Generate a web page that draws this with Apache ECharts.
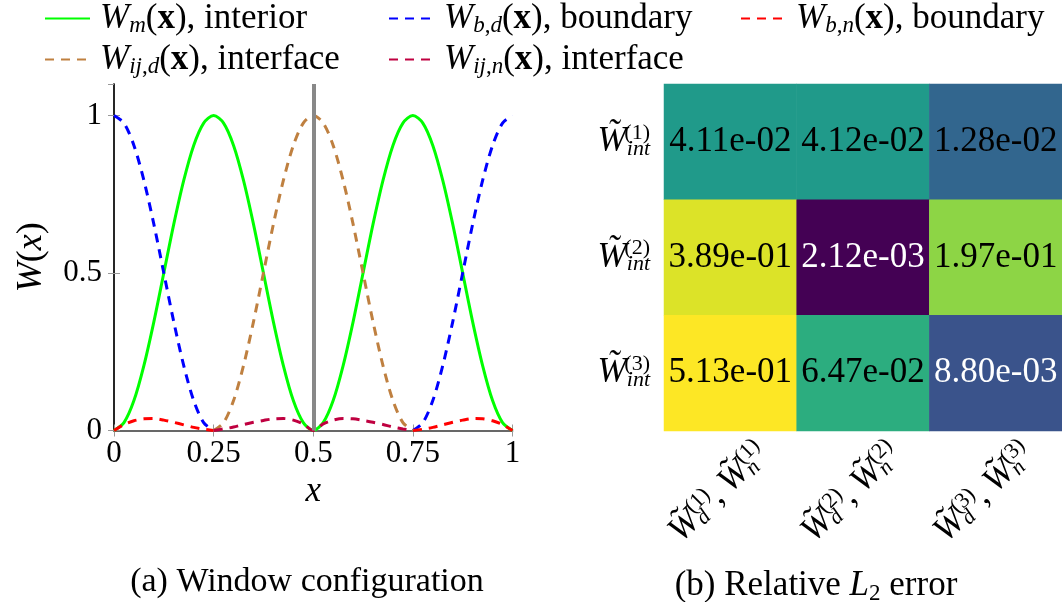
<!DOCTYPE html>
<html>
<head>
<meta charset="utf-8">
<script src="https://cdn.jsdelivr.net/npm/echarts@6/dist/echarts.min.js"></script>
<style>
  html, body { margin: 0; padding: 0; background: #fff; }
  #chart { width: 1062px; height: 602px; }
</style>
</head>
<body>
<div id="chart"></div>
<script>
// sample positions along x
var xs = [0, 0.025, 0.05, 0.075, 0.1, 0.125, 0.15, 0.175, 0.2, 0.225, 0.25,
  0.275, 0.3, 0.325, 0.35, 0.375, 0.4, 0.425, 0.45, 0.475, 0.5,
  0.525, 0.55, 0.575, 0.6, 0.625, 0.65, 0.675, 0.7, 0.725, 0.75,
  0.775, 0.8, 0.825, 0.85, 0.875, 0.9, 0.925, 0.95, 0.975, 1];

var wInterior = [0, 0.025, 0.095, 0.206, 0.345, 0.5, 0.655, 0.794, 0.905, 0.976, 1,
  0.976, 0.905, 0.794, 0.655, 0.5, 0.345, 0.206, 0.095, 0.025, 0,
  0.025, 0.095, 0.206, 0.345, 0.5, 0.655, 0.794, 0.905, 0.976, 1,
  0.976, 0.905, 0.794, 0.655, 0.5, 0.345, 0.206, 0.095, 0.025, 0];

var wBoundaryD = [1, 0.976, 0.905, 0.794, 0.655, 0.5, 0.345, 0.206, 0.095, 0.025, 0,
  null, null, null, null, null, null, null, null, null, null,
  null, null, null, null, null, null, null, null, null,
  0, 0.025, 0.095, 0.206, 0.345, 0.5, 0.655, 0.794, 0.905, 0.976, 1];

var wBoundaryN = [0, 0.019, 0.031, 0.037, 0.038, 0.033, 0.026, 0.018, 0.010, 0.004, 0,
  null, null, null, null, null, null, null, null, null, null,
  null, null, null, null, null, null, null, null, null,
  0, 0.004, 0.010, 0.018, 0.026, 0.033, 0.038, 0.037, 0.031, 0.019, 0];

var wInterfaceD = [null, null, null, null, null, null, null, null, null, null,
  0, 0.025, 0.095, 0.206, 0.345, 0.5, 0.655, 0.794, 0.905, 0.976, 1,
  0.976, 0.905, 0.794, 0.655, 0.5, 0.345, 0.206, 0.095, 0.025, 0,
  null, null, null, null, null, null, null, null, null, null];

var wInterfaceN = [null, null, null, null, null, null, null, null, null, null,
  0, 0.005, 0.011, 0.019, 0.026, 0.032, 0.037, 0.038, 0.033, 0.021, 0,
  0.021, 0.033, 0.038, 0.037, 0.032, 0.026, 0.019, 0.011, 0.005, 0,
  null, null, null, null, null, null, null, null, null, null];

var interfaceX = [0.5];

// relative L2 error table, rows = W_int^(k), cols = (W_d^(k), W_n^(k))
var errRow1 = [4.11e-2, 4.12e-2, 1.28e-2];
var errRow2 = [3.89e-1, 2.12e-3, 1.97e-1];
var errRow3 = [5.13e-1, 6.47e-2, 8.80e-3];
var heatCols = ['1', '2', '3'];
var heatRows = ['1', '2', '3'];

var FONT = "'Liberation Serif', 'Times New Roman', Times, serif";
var viridis = ['#440154', '#482878', '#3e4989', '#31688e', '#26828e', '#1f9e89',
  '#35b779', '#6ece58', '#b5de2b', '#fde725'];

function pairs(ys) {
  return xs.map(function (x, i) { return [x, ys[i]]; });
}

function tok(size, extra) {
  var s = { fontFamily: FONT, fontSize: size, fontWeight: 'normal', fontStyle: 'normal', color: '#000' };
  for (var k in extra) s[k] = extra[k];
  return s;
}

// legend / titles / axis names
var rich = {
  it: tok(35, { fontStyle: 'italic', lineHeight: 38 }),
  rm: tok(35, { lineHeight: 38 }),
  bf: tok(35, { fontWeight: 'bold', lineHeight: 38 }),
  sub: tok(23, { fontStyle: 'italic', lineHeight: 18, verticalAlign: 'bottom' }),
  subrm: tok(23, { lineHeight: 18, verticalAlign: 'bottom' })
};

// heatmap row labels: base (W + int), superscripts, tildes on separate axes
var yBaseRich = {
  W: tok(35, { fontStyle: 'italic', lineHeight: 36 }),
  lo: tok(22, { fontStyle: 'italic', lineHeight: 14, verticalAlign: 'bottom' })
};
var ySupRich = { sup: tok(22, { lineHeight: 22 }) };
var yTildeRich = { tt: tok(35, { fontStyle: 'italic', lineHeight: 36 }) };

// heatmap column labels (rotated), fixed widths keep the three layers aligned
var xBaseRich = {
  W: tok(35, { fontStyle: 'italic', lineHeight: 36, width: 29, align: 'left' }),
  lo: tok(22, { fontStyle: 'italic', lineHeight: 14, verticalAlign: 'bottom', width: 25, align: 'left' }),
  cm: tok(35, { lineHeight: 36, width: 16, align: 'left' })
};
var xSupRich = {
  s29: { width: 29, lineHeight: 2, fontSize: 10, align: 'left' },
  s16: { width: 16, lineHeight: 2, fontSize: 10, align: 'left' },
  sup: tok(22, { lineHeight: 22, width: 25, align: 'left' })
};
var xTildeRich = {
  s10: { width: 10, lineHeight: 2, fontSize: 10, align: 'left' },
  s25: { width: 25, lineHeight: 2, fontSize: 10, align: 'left' },
  s16: { width: 16, lineHeight: 2, fontSize: 10, align: 'left' },
  tt: tok(35, { fontStyle: 'italic', lineHeight: 36, width: 19, align: 'left' })
};

var legendText = {
  Wm: '{it|W}{sub|m}{rm|(}{bf|x}{rm|), interior}',
  Wbd: '{it|W}{sub|b}{subrm|,}{sub|d}{rm|(}{bf|x}{rm|), boundary}',
  Wbn: '{it|W}{sub|b}{subrm|,}{sub|n}{rm|(}{bf|x}{rm|), boundary}',
  Wijd: '{it|W}{sub|ij}{subrm|,}{sub|d}{rm|(}{bf|x}{rm|), interface}',
  Wijn: '{it|W}{sub|ij}{subrm|,}{sub|n}{rm|(}{bf|x}{rm|), interface}'
};

function legendAt(name, left, top) {
  return {
    data: [name], left: left, top: top, padding: 0, itemGap: 0,
    itemWidth: 45, itemHeight: 14, selectedMode: false,
    itemStyle: { opacity: 0, borderWidth: 0 },
    formatter: function (n) { return legendText[n]; },
    textStyle: { rich: rich, padding: [0, 0, 0, 5] }
  };
}

function fmtExp(v) {
  return v.toExponential(2).replace(/e([+-])(\d)$/, 'e$10$2');
}

var heatData = [];
[errRow1, errRow2, errRow3].forEach(function (row, r) {
  row.forEach(function (v, c) {
    heatData.push({
      value: [c, r, v, Math.log10(v)],
      label: { color: v < 0.01 ? '#fff' : '#000' }
    });
  });
});
var allErr = errRow1.concat(errRow2, errRow3);

function lineSeries(name, ys, color, dashed) {
  return {
    name: name, type: 'line', data: pairs(ys), xAxisIndex: 0, yAxisIndex: 0,
    symbol: 'none', smooth: 0.3, connectNulls: false,
    lineStyle: { color: color, width: 3, type: dashed ? [9, 7] : 'solid' },
    itemStyle: { color: color },
    emphasis: { disabled: true }
  };
}

function heatX(richStyle, padBottom, fmt) {
  return {
    type: 'category', gridIndex: 1, data: heatCols, position: 'bottom',
    axisLine: { show: false }, axisTick: { show: false }, splitLine: { show: false },
    axisLabel: {
      interval: 0, rotate: 45, align: 'center', verticalAlign: 'middle', margin: 50,
      padding: [0, 34, padBottom, 0], rich: richStyle, formatter: fmt
    }
  };
}

function heatY(richStyle, margin, padBottom, fmt) {
  return {
    type: 'category', gridIndex: 1, data: heatRows, inverse: true, position: 'left',
    axisLine: { show: false }, axisTick: { show: false }, splitLine: { show: false },
    axisLabel: { margin: margin, padding: [0, 0, padBottom, 0], rich: richStyle, formatter: fmt }
  };
}

var chart = echarts.init(document.getElementById('chart'));
var tickGray = '#999';
chart.setOption({
  animation: false,
  backgroundColor: '#fff',
  title: [
    { text: '(a) Window configuration', left: 302, top: 560, textAlign: 'center',
      textStyle: { fontFamily: FONT, fontSize: 34, fontWeight: 'normal', color: '#000' } },
    { text: '{rm|(b) Relative }{it|L}{subrm|2}{rm| error}', left: 811, top: 562, textAlign: 'center',
      textStyle: { fontWeight: 'normal', rich: rich } }
  ],
  legend: [
    legendAt('Wm', 44, 1),
    legendAt('Wbd', 388, 1),
    legendAt('Wbn', 740, 1),
    legendAt('Wijd', 44, 42),
    legendAt('Wijn', 388, 42)
  ],
  grid: [
    { left: 114, top: 84, width: 398.5, height: 346.5 },
    { left: 664, top: 84, width: 398, height: 347 }
  ],
  xAxis: [
    { type: 'value', gridIndex: 0, min: 0, max: 1, interval: 0.25, position: 'bottom',
      name: '{it|x}', nameLocation: 'middle', nameGap: 38, nameTextStyle: { rich: rich },
      axisLine: { lineStyle: { color: '#000', width: 1.5 } },
      axisTick: { inside: true, length: 6, lineStyle: { color: tickGray } },
      axisLabel: { fontFamily: FONT, fontSize: 31, color: '#000', margin: 8 },
      splitLine: { show: false } },
    { type: 'value', gridIndex: 0, min: 0, max: 1, interval: 0.25, position: 'top',
      axisLine: { lineStyle: { color: '#777', width: 1.5 } },
      axisTick: { inside: true, length: 6, lineStyle: { color: tickGray } },
      axisLabel: { show: false }, splitLine: { show: false } },
    heatX(xBaseRich, 0, function (v) {
      return '{W|W}{lo|d}{cm|,}{W|W}{lo|n}';
    }),
    heatX(xSupRich, 18, function (v) {
      return '{s29| }{sup|(' + v + ')}{s16| }{s29| }{sup|(' + v + ')}';
    }),
    heatX(xTildeRich, 12, function (v) {
      return '{s10| }{tt|\u02dc}{s25| }{s16| }{s10| }{tt|\u02dc}{s25| }';
    })
  ],
  yAxis: [
    { type: 'value', gridIndex: 0, min: 0, max: 1.1, interval: 0.5, position: 'left',
      name: '{it|W}{rm|(}{it|x}{rm|)}', nameLocation: 'middle', nameGap: 64, nameRotate: 90,
      nameTextStyle: { rich: {
        it: tok(36, { fontStyle: 'italic' }), rm: tok(36, {}) } },
      axisLine: { lineStyle: { color: '#777', width: 1.5 } },
      axisTick: { inside: true, length: 6, lineStyle: { color: tickGray } },
      axisLabel: { fontFamily: FONT, fontSize: 31, color: '#000', margin: 12, showMaxLabel: false },
      splitLine: { show: false } },
    { type: 'value', gridIndex: 0, min: 0, max: 1.1, interval: 0.5, position: 'right',
      axisLine: { lineStyle: { color: '#000', width: 1.5 } },
      axisTick: { inside: true, length: 6, lineStyle: { color: tickGray } },
      axisLabel: { show: false }, splitLine: { show: false } },
    heatY(yBaseRich, 14, 0, function (v) { return '{W|W}{lo|int}'; }),
    heatY(ySupRich, 14, 18, function (v) { return '{sup|(' + v + ')}'; }),
    heatY(yTildeRich, 45, 14, function (v) { return '{tt|\u02dc}'; })
  ],
  visualMap: {
    show: false, type: 'continuous', seriesIndex: 6, dimension: 3,
    min: Math.log10(Math.min.apply(null, allErr)),
    max: Math.log10(Math.max.apply(null, allErr)),
    inRange: { color: viridis }
  },
  series: [
    { type: 'line', data: [], xAxisIndex: 0, yAxisIndex: 0, z: 1, silent: true,
      markLine: {
        silent: true, symbol: ['none', 'none'], label: { show: false },
        lineStyle: { color: '#888', width: 4, type: 'solid' },
        data: interfaceX.map(function (x) { return { xAxis: x }; })
      } },
    lineSeries('Wm', wInterior, '#00ff00', false),
    lineSeries('Wbd', wBoundaryD, '#0000ff', true),
    lineSeries('Wbn', wBoundaryN, '#ff0000', true),
    lineSeries('Wijd', wInterfaceD, '#bf8040', true),
    lineSeries('Wijn', wInterfaceN, '#bf0040', true),
    { type: 'heatmap', xAxisIndex: 2, yAxisIndex: 2, data: heatData,
      itemStyle: { borderWidth: 0 },
      emphasis: { disabled: true },
      label: {
        show: true, fontFamily: FONT, fontSize: 35,
        formatter: function (p) { return fmtExp(p.value[2]); }
      } }
  ]
});
</script>
</body>
</html>
